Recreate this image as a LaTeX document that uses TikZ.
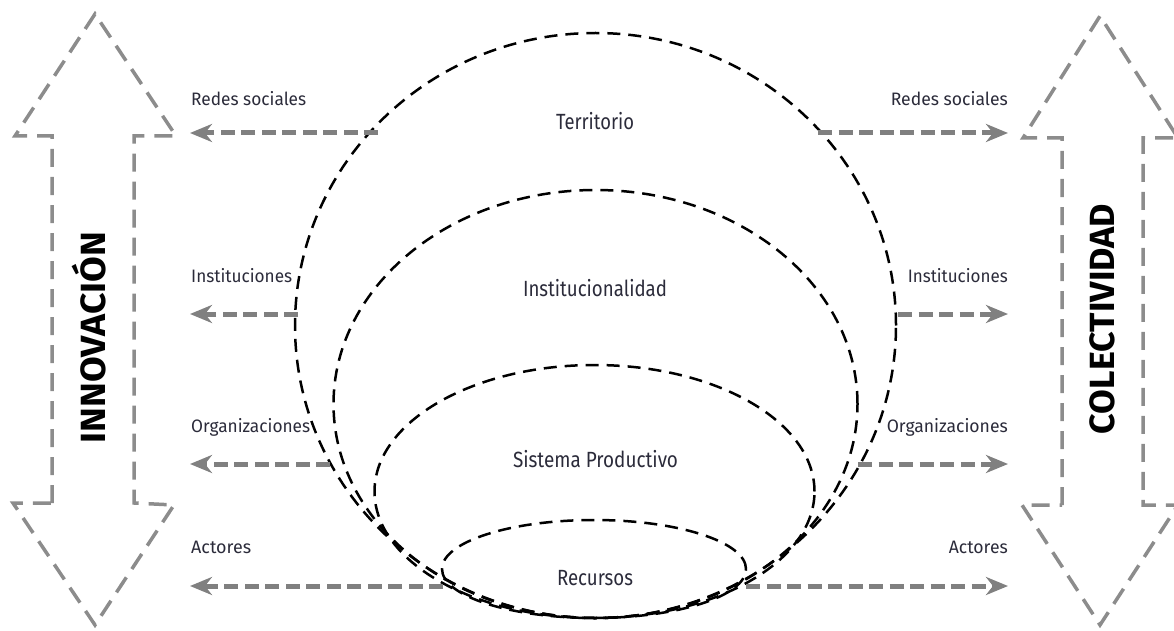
\documentclass[tikz,border=0pt]{standalone}
\usepackage{fontspec}
\setmainfont{Liberation Sans}
\newfontfamily\labfont{Fira Sans}
\usetikzlibrary{arrows.meta,shapes.geometric}
\newcommand{\fitw}[2]{\resizebox{#1}{\height}{#2}}
\definecolor{txt}{HTML}{2B2B3A}
\definecolor{flowgray}{HTML}{808080}
\definecolor{biggray}{HTML}{8C8C8C}
\tikzset{
  bigarrow/.style={draw=biggray, line width=3.5pt, dash pattern=on 18pt off 10pt, line join=miter},
  flow/.style={draw=flowgray, line width=5pt, dash pattern=on 14pt off 6.5pt,
    -{Stealth[length=22pt,width=18pt,inset=7pt]}},
  ell/.style={ellipse, draw=black, line width=2.5pt, dash pattern=on 13pt off 8pt, inner sep=0pt, outer sep=0pt},
  side/.style={text=txt, font=\labfont\fontsize{18}{20}\selectfont, inner sep=0pt, anchor=base west},
  sider/.style={text=txt, font=\labfont\fontsize{18}{20}\selectfont, inner sep=0pt, anchor=base east},
  center/.style={text=txt, font=\labfont\fontsize{22}{26}\selectfont, inner sep=0pt, anchor=base},
  big/.style={text=black, font=\labfont\bfseries\fontsize{35}{40}\selectfont, inner sep=0pt, rotate=90, anchor=base},
}
\begin{document}
\begin{tikzpicture}[x=1pt,y=-1pt]
\useasboundingbox (0,0) rectangle (1174,631);
% big arrows
\draw[bigarrow] (52,503) -- (52,136) -- (15,136) -- (95,14) -- (176,136) -- (134,136) -- (134,503) -- (174,505) -- (95,625) -- (13,503) -- cycle;
\draw[bigarrow] (1062,505) -- (1062,138) -- (1023,138) -- (1100,16) -- (1178,138) -- (1143,138) -- (1143,505) -- (1178,505) -- (1100,625) -- (1022,505) -- cycle;
\node[big] (innov) at (105,337.5) {\fitw{211pt}{INNOVACIÓN}};
\node[big] (colec) at (1114,319) {\fitw{230pt}{COLECTIVIDAD}};
% ellipses
\node[ell, minimum width=601pt, minimum height=585pt] (terr) at (595.5,325.5) {};
\node[ell, minimum width=524pt, minimum height=428pt] (inst) at (595.5,404) {};
\node[ell, minimum width=440pt, minimum height=253pt] (sist) at (594.5,491.5) {};
\node[ell, minimum width=304pt, minimum height=98pt] (recu) at (594,569) {};
\node[center] (lterr) at (595,130) {\fitw{78pt}{Territorio}};
\node[center] (linst) at (595,296) {\fitw{144pt}{Institucionalidad}};
\node[center] (lsist) at (595.5,467) {\fitw{165pt}{Sistema Productivo}};
\node[center] (lrecu) at (595,585) {\fitw{76pt}{Recursos}};
% flow arrow end points
\coordinate (sL1) at (378,133); \coordinate (tL1) at (190,133);
\coordinate (sL2) at (298,314); \coordinate (tL2) at (190,314);
\coordinate (sL3) at (330,464); \coordinate (tL3) at (190,464);
\coordinate (sL4) at (443,586); \coordinate (tL4) at (190,586);
\coordinate (sR1) at (818,133); \coordinate (tR1) at (1008,133);
\coordinate (sR2) at (898,314); \coordinate (tR2) at (1008,314);
\coordinate (sR3) at (858,464); \coordinate (tR3) at (1008,464);
\coordinate (sR4) at (746,586); \coordinate (tR4) at (1008,586);
\foreach \i in {1,2,3,4}{
  \draw[flow] (sL\i) -- (tL\i);
  \draw[flow] (sR\i) -- (tR\i);
}
% labels
\node[side] (l1) at (191,106) {\fitw{115pt}{Redes sociales}};
\node[side] (l2) at (191,282) {\fitw{101pt}{Instituciones}};
\node[side] (l3) at (191,432) {\fitw{119pt}{Organizaciones}};
\node[side] (l4) at (191,553) {\fitw{60pt}{Actores}};
\node[sider] (r1) at (1008,106) {\fitw{117pt}{Redes sociales}};
\node[sider] (r2) at (1008,282) {\fitw{100pt}{Instituciones}};
\node[sider] (r3) at (1008,432) {\fitw{121pt}{Organizaciones}};
\node[sider] (r4) at (1008,553) {\fitw{59pt}{Actores}};
\end{tikzpicture}
\end{document}
